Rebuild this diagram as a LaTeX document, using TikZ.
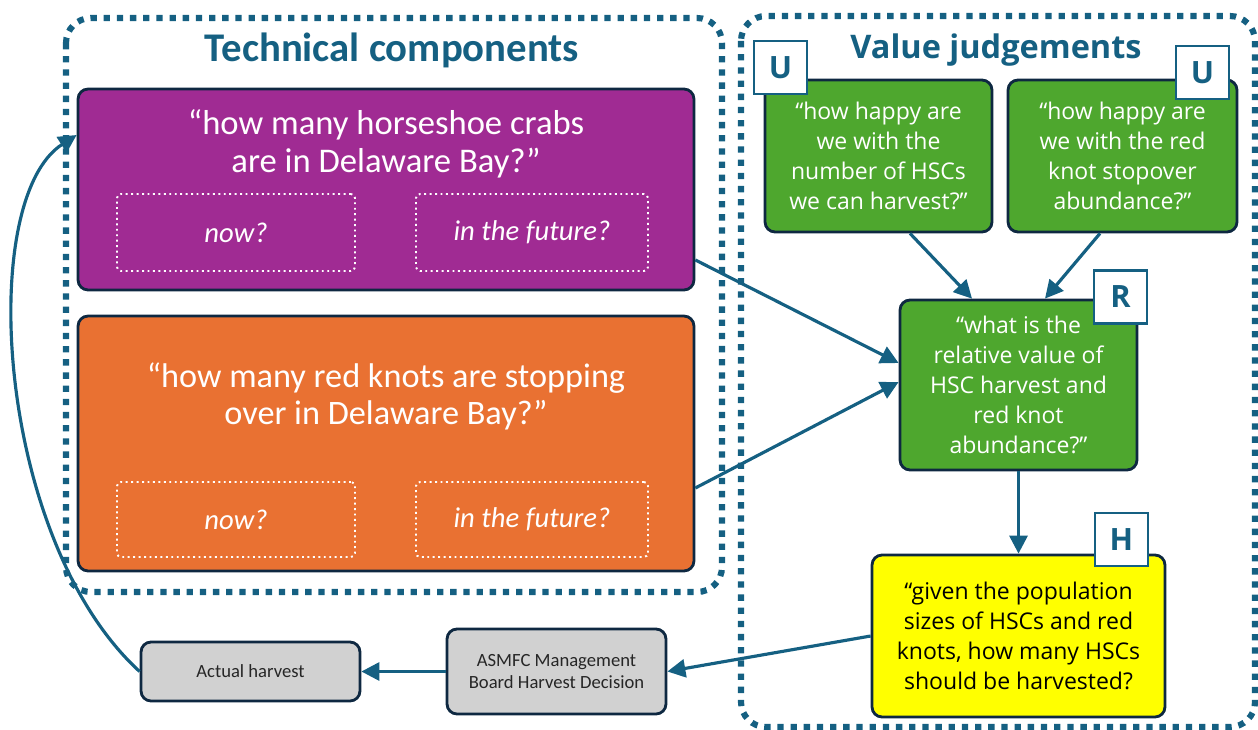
\documentclass[tikz,border=0pt]{standalone}
\usepackage{fontspec}
\setmainfont{Carlito}
\newfontfamily\aptos{Open Sans}
\usetikzlibrary{arrows.meta}

\definecolor{frameblue}{HTML}{156082}
\definecolor{boxline}{HTML}{0E2841}
\definecolor{hscpurple}{HTML}{A02B93}
\definecolor{rkorange}{HTML}{E97132}
\definecolor{valgreen}{HTML}{4EA72E}
\definecolor{harvyellow}{HTML}{FFFF00}
\definecolor{decgrey}{HTML}{D1D1D1}

\begin{document}
\begin{tikzpicture}[x=0.02cm, y=-0.02cm,
	frame/.style={frameblue, line width=3.5pt, dash pattern=on 3.6pt off 3.9pt, rounded corners=0.5cm},
	qbox/.style={draw=boxline, line width=1.6pt, rounded corners=0.2cm, inner sep=0pt},
	dotbox/.style={draw=white, line width=1.1pt, dotted, rounded corners=0.08cm, text=white, font=\fontsize{16.3}{19}\selectfont\itshape, minimum height=1.54cm},
	greenq/.style={qbox, fill=valgreen, text=white, align=center, font=\aptos\fontsize{13.1}{17}\selectfont},
	tag/.style={draw=frameblue, line width=1.4pt, fill=white, minimum size=1.06cm, inner sep=0pt, text=frameblue, font=\aptos\bfseries\fontsize{17.5}{20}\selectfont},
	greyq/.style={qbox, fill=decgrey, text=black!85, align=center, minimum width=4.38cm, font=\fontsize{10.6}{13}\selectfont},
	arr/.style={frameblue, line width=1.8pt, -{Triangle[length=0.36cm, width=0.36cm]}},
]
	\useasboundingbox (0,0) rectangle (1258,730);

	% dotted frames
	\draw[frame] (66,18) rectangle (722,592);
	\draw[frame] (741,16) rectangle (1255,727);
	\node (techtitle) at (392,50) {\bfseries\fontsize{23.2}{26}\selectfont\color{frameblue}Technical components};
	\node (valtitle) at (996,50) {\aptos\bfseries\fontsize{18.5}{22}\selectfont\color{frameblue}Value judgements};

	% technical components
	\node[qbox, fill=hscpurple, minimum width=12.32cm, minimum height=4.02cm] (hsc) at (386,189.5) {};
	\node[text=white, align=center, font=\fontsize{19.7}{21.5}\selectfont] (hscq) at (386,144) {“how many horseshoe crabs\\are in Delaware Bay?”};
	\node[dotbox, minimum width=4.76cm] (hscnow) at (236,232.5) {now?};
	\node[dotbox, minimum width=4.64cm] (hscfut) at (532,232.5) {in the future?};

	\node[qbox, fill=rkorange, minimum width=12.32cm, minimum height=5.1cm] (rk) at (386,443.5) {};
	\node[text=white, align=center, font=\fontsize{19.5}{21.5}\selectfont] (rkq) at (386,396.5) {“how many red knots are stopping\\over in Delaware Bay?”};
	\node[dotbox, minimum width=4.76cm, minimum height=1.5cm] (rknow) at (236,519.5) {now?};
	\node[dotbox, minimum width=4.64cm, minimum height=1.5cm] (rkfut) at (532,519.5) {in the future?};

	% value judgements
	\node[greenq, minimum width=4.54cm, minimum height=3.04cm] (uhsc) at (878.5,156) {“how happy are\\we with the\\number of HSCs\\we can harvest?”};
	\node[greenq, minimum width=4.58cm, minimum height=3.04cm] (urk) at (1122.5,156) {“how happy are\\we with the red\\knot stopover\\abundance?”};
	\node[greenq, minimum width=4.74cm, minimum height=3.4cm] (rel) at (1018.5,385) {“what is the\\relative value of\\HSC harvest and\\red knot\\abundance?”};
	\node[qbox, fill=harvyellow, align=center, minimum width=5.86cm, minimum height=3.24cm, font=\aptos\fontsize{13.1}{17}\selectfont] (harv) at (1018.5,636) {“given the population\\sizes of HSCs and red\\knots, how many HSCs\\should be harvested?};

	\node[tag] (tagu1) at (780.5,67.5) {U};
	\node[tag] (tagu2) at (1202.5,72.5) {U};
	\node[tag] (tagr) at (1120.5,297) {R};
	\node[tag] (tagh) at (1121.5,539.5) {H};

	% decision boxes
	\node[greyq, minimum height=1.7cm] (asmfc) at (556.5,671.5) {ASMFC Management\\Board Harvest Decision};
	\node[greyq, minimum height=1.18cm] (actual) at (250.5,671.5) {Actual harvest};

	% connectors
	\draw[arr] ([yshift=-1.41cm]hsc.east) -- ([yshift=0.44cm]rel.west);
	\draw[arr] ([yshift=-0.89cm]rk.east) -- ([yshift=0.06cm]rel.west);
	\draw[arr] ([xshift=0.63cm]uhsc.south) -- ([xshift=-0.93cm]rel.north);
	\draw[arr] ([xshift=-0.45cm]urk.south) -- ([xshift=0.53cm]rel.north);
	\draw[arr] (rel.south) -- (harv.north);
	\draw[arr] (harv.west) -- (asmfc.east);
	\draw[arr] (asmfc.west) -- (actual.east);
	\draw[arr] (actual.west) .. controls (-4,540) and (-24,200) .. ([yshift=1.09cm]hsc.west);
\end{tikzpicture}
\end{document}
